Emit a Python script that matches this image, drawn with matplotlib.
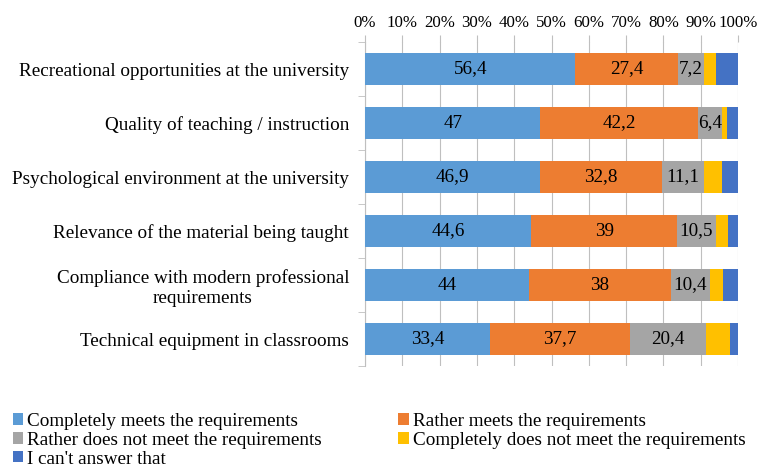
import numpy as np
import matplotlib.pyplot as plt

plt.rcParams['font.family'] = ['Liberation Serif', 'DejaVu Serif']

# Categories, top to bottom
categories = [
    'Recreational opportunities at the university',
    'Quality of teaching / instruction',
    'Psychological environment at the university',
    'Relevance of the material being taught',
    'Compliance with modern professional\nrequirements',
    'Technical equipment in classrooms',
]

series_names = [
    'Completely meets the requirements',
    'Rather meets the requirements',
    'Rather does not meet the requirements',
    'Completely does not meet the requirements',
    "I can't answer that",
]

completely_meets = [56.4, 47, 46.9, 44.6, 44, 33.4]
rather_meets = [27.4, 42.2, 32.8, 39, 38, 37.7]
rather_not = [7.2, 6.4, 11.1, 10.5, 10.4, 20.4]
completely_not = [3.1, 1.5, 4.9, 3.1, 3.6, 6.4]
cant_answer = [5.9, 2.9, 4.3, 2.8, 4.0, 2.1]

series = [completely_meets, rather_meets, rather_not, completely_not, cant_answer]
colors = ['#5B9BD5', '#ED7D31', '#A5A5A5', '#FFC000', '#4472C4']
show_labels = [True, True, True, False, False]

fig = plt.figure(figsize=(7.58, 4.68), dpi=100)
ax = fig.add_axes([365 / 758, 1 - 366 / 468, 373 / 758, 324 / 468])

y = np.arange(len(categories))
left = np.zeros(len(categories))
for vals, name, col, lab in zip(series, series_names, colors, show_labels):
    vals = np.array(vals, dtype=float)
    bars = ax.barh(y, vals, left=left, height=0.61, color=col, label=name, zorder=3)
    if lab:
        for b, v in zip(bars, vals):
            txt = f'{v:g}'.replace('.', ',')
            ax.text(b.get_x() + b.get_width() / 2, b.get_y() + b.get_height() / 2, txt,
                    ha='center', va='center', fontsize=13.8, color='#000000', zorder=4)
    left += vals

ax.set_xlim(0, 100)
ax.set_ylim(len(categories) - 0.5, -0.5)
ax.set_yticks(y)
ax.set_yticklabels(categories, fontsize=13.8, ha='right', multialignment='center')
ax.set_yticks(np.arange(-0.5, len(categories)), minor=True)
ax.set_xticks(np.arange(0, 101, 10))
ax.set_xticklabels([f'{v}%' for v in range(0, 101, 10)], fontsize=12.2)
ax.xaxis.tick_top()
ax.tick_params(axis='x', length=5, color='#BFBFBF', pad=3)
ax.tick_params(axis='y', which='major', length=0, pad=11.5)
ax.tick_params(axis='y', which='minor', length=5, color='#BFBFBF')
ax.grid(axis='x', color='#BFBFBF', linewidth=0.8, zorder=0)
for s in ['top', 'right', 'bottom']:
    ax.spines[s].set_visible(False)
ax.spines['left'].set_color('#BFBFBF')

# legend filled row by row in two columns
handles, labels = ax.get_legend_handles_labels()
order = [0, 2, 4, 1, 3]
fig.legend([handles[i] for i in order], [labels[i] for i in order],
           loc='upper left', bbox_to_anchor=(5 / 758, 1 - 405 / 468),
           ncol=2, frameon=False, fontsize=13.8, handlelength=0.55, handleheight=0.55,
           handletextpad=0.2, columnspacing=4.0, labelspacing=0.1, borderaxespad=0)

fig.savefig('out.png', dpi=100)
